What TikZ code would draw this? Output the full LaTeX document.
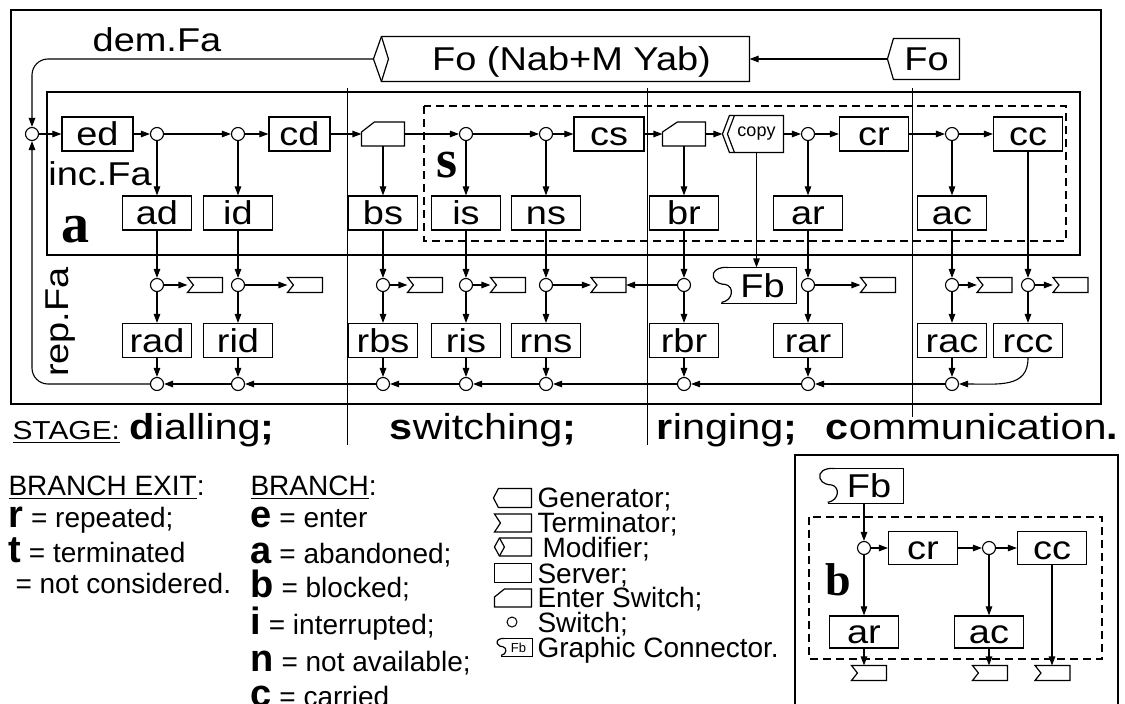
\documentclass[tikz,border=0pt]{standalone}
\usepackage{fontspec}
\setmainfont{Liberation Sans}
\newfontfamily\lbl[FakeStretch=1.15]{Liberation Sans}
\newfontfamily\tnr{Liberation Serif}
\usetikzlibrary{arrows.meta,calc}
\newcommand\fB{\lbl\fontsize{33}{36}\selectfont}
\newcommand\fS{\lbl\fontsize{36}{40}\selectfont}
\newcommand\fL{\normalfont\fontsize{28}{32}\selectfont}
\newcommand\bigb[1]{{\fontsize{38}{40}\selectfont\bfseries #1}}
\newcommand\myul[1]{\setbox0=\hbox{#1}\rlap{\rule[-4pt]{\wd0}{1.3pt}}\box0}
\newcommand\outlineES[3]{\draw[line width=1.2pt] (#1.south west) -- ($(#1.south west)+(0,-#2)$) -- ($(#1.north west)+(#3,0)$) -- (#1.north east) -- (#1.south east) -- cycle;}
\newcommand\outlineT[2]{\draw[line width=1.2pt] (#1.north west) -- (#1.north east) -- (#1.south east) -- (#1.south west) -- ($(#1.west)+(#2,0)$) -- cycle;}
\newcommand\outlineG[2]{\draw[line width=1.2pt] (#1.north east) -- (#1.north west) -- ($(#1.west)+(-#2,0)$) -- (#1.south west) -- (#1.south east) -- cycle;}
\newcommand\outlineM[3]{\draw[line width=1.2pt] (#1.north west) -- (#1.north east) -- (#1.south east) -- (#1.south west) -- ($(#1.west)+(-#2,0)$) -- cycle;
  \draw[line width=1.2pt] (#1.north west) -- ($(#1.west)+(#3,0)$) -- (#1.south west);}
\newcommand\outlineF[2]{\draw[line width=1.2pt] ($(#1.south west)+(-7*#2,0)$) -- (#1.south east) -- (#1.north east) -- (#1.north west);
  \draw[line width=1.2pt, shift={(#1.north west)}, scale=#2] (0,0) .. controls (-10,-1) and (-17,4) .. (-15,10) .. controls (-13,16) and (-6,17) .. (-3,17) .. controls (6,19) and (5,33) .. (-7,35);}
\begin{document}
\begin{tikzpicture}[x=1pt,y=-1pt,line width=1.1pt,
  srv/.style={draw,line width=1.2pt,minimum width=69pt,minimum height=34pt,inner sep=0pt,text height=23pt,text depth=0pt,font=\fB},
  sw/.style={draw,line width=1.1pt,circle,minimum size=13pt,inner sep=0pt},
  arr/.style={-{Triangle[length=9pt,width=6.5pt]}},
  tm/.style={inner sep=0pt,minimum width=34pt,minimum height=14pt},
  esw/.style={inner sep=0pt,minimum width=42pt,minimum height=23pt},
  lab/.style={font=\fB,inner sep=0pt},
  txt/.style={anchor=base west,inner sep=0pt,font=\fL},
  big/.style={inner sep=0pt},
  stg/.style={anchor=base,inner sep=0pt,font=\fS},
]
\useasboundingbox (0,0) rectangle (1125,704);
\fill[white] (0,0) rectangle (1125,704);

% frames
\draw[line width=1.4pt] (11,10) rectangle (1101,404);
\draw[line width=1.3pt] (47,92) rectangle (1080,255);
\draw[line width=1.1pt, dash pattern=on 8pt off 5pt] (424,106) rectangle (1066,241);
\draw[line width=0.8pt] (347,88) -- (347,445);
\draw[line width=0.8pt] (647,88) -- (647,445);
\draw[line width=0.8pt] (912,88) -- (912,417);

% top row
\node[inner sep=0pt,minimum width=367pt,minimum height=44pt,font=\fB,text height=23pt,text depth=0pt] (mod) at (565.5,59) {\hspace*{12pt}Fo (Nab+M Yab)};
\outlineM{mod}{8}{7}
\coordinate (modtip) at ($(mod.west)+(-8,0)$);
\node[inner sep=0pt,minimum width=65pt,minimum height=40pt,font=\fB,text height=23pt,text depth=0pt] (fo) at (926.5,59) {Fo};
\outlineG{fo}{6}
\coordinate (fotip) at ($(fo.west)+(-6,0)$);

% row 1
\node[sw] (c0) at (32,134) {};
\node[srv,minimum width=71pt] (ed) at (97.5,134) {ed};
\node[sw] (c1) at (157,134) {};
\node[sw] (c2) at (238,134) {};
\node[srv,minimum width=61pt] (cd) at (299.5,134) {cd};
\node[esw] (esd) at (383,134) {};
\outlineES{esd}{14}{13}
\node[sw] (c3) at (466,134) {};
\node[sw] (c4) at (546,134) {};
\node[srv,minimum width=70pt] (cs) at (609,134) {cs};
\node[esw] (esr) at (684,134) {};
\outlineES{esr}{14}{15}
\node[inner sep=0pt,minimum width=53pt,minimum height=36pt,font=\fontsize{18}{20}\selectfont] (copy) at (756.5,134) {copy};
\coordinate (copytip) at ($(copy.west)+(-7,0)$);
\draw[line width=1.2pt] (copy.north east) -- (copy.north west) -- (copytip) -- (copy.south west) -- (copy.south east) -- cycle;
\draw[line width=1.2pt] ($(copy.north west)+(5,0)$) -- ($(copy.west)+(-2,0)$) -- ($(copy.south west)+(5,0)$);
\node[sw] (c5) at (808,134) {};
\node[srv] (cr) at (874,134) {cr};
\node[sw] (c6) at (952,134) {};
\node[srv] (cc) at (1028,134) {cc};

% row 2
\node[srv] (ad) at (157,213) {ad};
\node[srv] (id) at (238,213) {id};
\node[srv] (bs) at (383,213) {bs};
\node[srv] (is) at (466,213) {is};
\node[srv] (ns) at (546,213) {ns};
\node[srv] (br) at (684,213) {br};
\node[srv] (ar) at (808,213) {ar};
\node[srv] (ac) at (952,213) {ac};

% row 3
\foreach \n/\x in {pA/157,pB/238,pC/383,pD/466,pE/546,pF/684,pG/808,pH/952,pI/1028}
  \node[sw] (\n) at (\x,285) {};
\foreach \n/\x in {tA/205,tB/305,tC/425,tD/508,tE/608.5,tG/878,tH/994.5,tI/1070.5}
  {\node[tm] (\n) at (\x,285) {}; \outlineT{\n}{6}}
\node[inner sep=0pt,minimum width=67pt,minimum height=35pt,font=\fB,text height=23pt,text depth=0pt] (fb) at (762.5,285.5) {Fb};
\outlineF{fb}{1}

% row 4
\foreach \n/\t/\x in {rad/rad/157,rid/rid/238,rbs/rbs/383,ris/ris/466,rns/rns/546,rbr/rbr/684,rar/rar/808,rac/rac/952,rcc/rcc/1028}
  \node[srv] (\n) at (\x,340.5) {\t};

% row 5
\foreach \n/\x in {qA/157,qB/238,qC/383,qD/466,qE/546,qF/684,qG/808,qH/952}
  \node[sw] (\n) at (\x,384) {};

% connectors top
\draw[arr] (fotip) -- (mod.east);
\draw[arr,rounded corners=16pt] (modtip) -| (c0.north);
\draw[arr,rounded corners=16pt] (qA.west) -| (c0.south);

% row 1 connectors
\draw[arr] (c0) -- (ed);
\draw[arr] (ed) -- (c1);
\draw[arr] (c1) -- (c2);
\draw[arr] (c2) -- (cd);
\draw[arr] (cd) -- (esd);
\draw[arr] (esd) -- (c3);
\draw[arr] (c3) -- (c4);
\draw[arr] (c4) -- (cs);
\draw[arr] (cs) -- (esr);
\draw[arr] (esr) -- (copytip);
\draw[arr] (copy) -- (c5);
\draw[arr] (c5) -- (cr);
\draw[arr] (cr) -- (c6);
\draw[arr] (c6) -- (cc);

% down to row 2
\draw[arr] (c1) -- (ad);
\draw[arr] (c2) -- (id);
\draw[arr] (esd) -- (bs);
\draw[arr] (c3) -- (is);
\draw[arr] (c4) -- (ns);
\draw[arr] (esr) -- (br);
\draw[arr] (c5) -- (ar);
\draw[arr] (c6) -- (ac);
\draw[arr] (cc) -- (pI);
\draw[arr] (copy.south) -- (copy.south |- fb.north);

% row 2 -> row 3
\draw[arr] (ad) -- (pA);
\draw[arr] (id) -- (pB);
\draw[arr] (bs) -- (pC);
\draw[arr] (is) -- (pD);
\draw[arr] (ns) -- (pE);
\draw[arr] (br) -- (pF);
\draw[arr] (ar) -- (pG);
\draw[arr] (ac) -- (pH);

% row 3 exits
\draw[arr] (pA) -- (tA);
\draw[arr] (pB) -- (tB);
\draw[arr] (pC) -- (tC);
\draw[arr] (pD) -- (tD);
\draw[arr] (pE) -- (tE);
\draw[arr] (pF) -- (tE);
\draw[arr] (pG) -- (tG);
\draw[arr] (pH) -- (tH);
\draw[arr] (pI) -- (tI);

% row 3 -> row 4 -> row 5
\foreach \a/\b/\c in {pA/rad/qA,pB/rid/qB,pC/rbs/qC,pD/ris/qD,pE/rns/qE,pF/rbr/qF,pG/rar/qG,pH/rac/qH}
  {\draw[arr] (\a) -- (\b); \draw[arr] (\b) -- (\c);}
\draw[arr] (pI) -- (rcc);
\draw[arr] (rcc.south) .. controls +(0,30) and +(40,0) .. (qH.east);
\draw[arr] (qH) -- (qG);
\draw[arr] (qG) -- (qF);
\draw[arr] (qF) -- (qE);
\draw[arr] (qE) -- (qD);
\draw[arr] (qD) -- (qC);
\draw[arr] (qC) -- (qB);
\draw[arr] (qB) -- (qA);

% labels
\node[lab] (ldem) at (157,40) {dem.Fa};
\node[lab] (linc) at (100,174) {inc.Fa};
\node[lab,rotate=90] (lrep) at (61,322) {rep.Fa};
\node[big,font=\tnr\bfseries\fontsize{56}{60}\selectfont] (la) at (75,230) {a};
\node[big,font=\tnr\bfseries\fontsize{54}{58}\selectfont] (ls) at (447,165) {s};

% stage line
\node[anchor=base west,inner sep=0pt,font=\lbl\fontsize{26}{30}\selectfont] (stage) at (12,439) {\myul{STAGE:}};
\node[stg] (sd) at (202,439) {{\bfseries d}ialling{\bfseries ;}};
\node[stg] (ss) at (483,439) {{\bfseries s}witching{\bfseries ;}};
\node[stg] (sr) at (727,439) {{\bfseries r}inging{\bfseries ;}};
\node[stg] (sc) at (972,439) {{\bfseries c}ommunication{\bfseries .}};

% legend left
\node[txt] (bx) at (8,495) {\myul{BRANCH EXIT}:};
\node[txt] (lr) at (8,527) {\bigb{r} = repeated;};
\node[txt] (lt) at (8,562) {\bigb{t} = terminated};
\node[txt] (lnc) at (15,593) {= not considered.};
\node[txt] (bb) at (250,495) {\myul{BRANCH}:};
\node[txt] (le) at (250,527) {\bigb{e} = enter};
\node[txt] (lab2) at (250,563) {\bigb{a} = abandoned;};
\node[txt] (lbl2) at (250,597) {\bigb{b} = blocked;};
\node[txt] (li) at (250,634) {\bigb{i} = interrupted;};
\node[txt] (ln) at (250,671) {\bigb{n} = not available;};
\node[txt] (lc) at (250,706) {\bigb{c} = carried};

% legend symbols
\node[inner sep=0pt,minimum width=32pt,minimum height=18pt] (ig) at (515,498) {};
\outlineG{ig}{5}
\node[txt] (tg) at (537,507) {Generator;};
\node[inner sep=0pt,minimum width=36pt,minimum height=17pt] (it) at (513,523) {};
\outlineT{it}{6}
\node[txt] (tt) at (537,532) {Terminator;};
\node[inner sep=0pt,minimum width=31pt,minimum height=17pt] (im) at (515.5,547) {};
\outlineM{im}{5}{5}
\node[txt] (tmo) at (542,557) {Modifier;};
\node[inner sep=0pt,minimum width=36pt,minimum height=18pt] (is2) at (513,573) {};
\draw[line width=1.2pt] (is2.north west) rectangle (is2.south east);
\node[txt] (ts) at (537,583) {Server;};
\node[inner sep=0pt,minimum width=36pt,minimum height=17pt] (ie) at (513,598) {};
\outlineES{ie}{10}{10}
\node[txt] (te) at (537,607) {Enter Switch;};
\node[sw,minimum size=10pt,line width=1pt] (isw) at (512,622) {};
\node[txt] (tsw) at (537,632) {Switch;};
\node[inner sep=0pt,minimum width=27pt,minimum height=17pt,font=\fontsize{13}{14}\selectfont] (ifb) at (518.5,647.5) {Fb};
\outlineF{ifb}{0.486}
\node[txt] (tfb) at (537,657) {Graphic Connector.};

% inset b
\draw[line width=1.4pt] (795,455) rectangle (1118,712);
\draw[line width=1.1pt, dash pattern=on 8pt off 5pt] (809,517) rectangle (1102,659);
\node[inner sep=0pt,minimum width=68pt,minimum height=34pt,font=\fB,text height=23pt,text depth=0pt] (fb2) at (869,486) {Fb};
\outlineF{fb2}{0.97}
\node[sw] (i1) at (864,548) {};
\node[srv,minimum height=33pt] (icr) at (923,548) {cr};
\node[sw] (i2) at (989,548) {};
\node[srv,minimum height=33pt] (icc) at (1052,548) {cc};
\node[srv,minimum height=32pt] (iar) at (864,632) {ar};
\node[srv,minimum height=32pt] (iac) at (989,632) {ac};
\foreach \n/\x in {it1/869,it2/990,it3/1052.5}
  {\node[tm] (\n) at (\x,673) {}; \outlineT{\n}{6}}
\node[big,font=\tnr\bfseries\fontsize{46}{50}\selectfont] (lb) at (838,580) {b};
\draw[arr] (i1 |- fb2.south) -- (i1.north);
\draw[arr] (i1) -- (icr);
\draw[arr] (icr) -- (i2);
\draw[arr] (i2) -- (icc);
\draw[arr] (i1) -- (iar);
\draw[arr] (i2) -- (iac);
\draw[arr] (iar.south) -- (iar.south |- it1.north);
\draw[arr] (iac.south) -- (iac.south |- it2.north);
\draw[arr] (icc.south) -- (icc.south |- it3.north);
\end{tikzpicture}
\end{document}
